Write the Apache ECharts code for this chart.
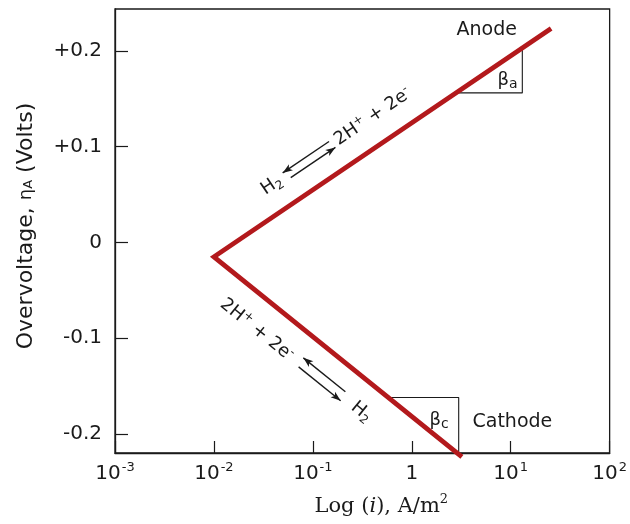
<!DOCTYPE html>
<html><head><meta charset="utf-8">
<script src="https://cdn.jsdelivr.net/npm/echarts@6/dist/echarts.min.js"></script>
<style>html,body{margin:0;padding:0;background:#fff;overflow:hidden}#c{width:630px;height:524px}</style>
</head><body><div id="c"></div>
<script>
// ---- data ----
const xMin = 0.001, xMax = 100;
const yMin = -0.2198, yMax = 0.2438;
const yTickValues = [-0.2, -0.1, 0, 0.1, 0.2];
const yTickLabels = ['-0.2', '-0.1', '0', '+0.1', '+0.2'];
const tafelLine = [[25.6, 0.2234], [0.01, -0.015], [3.21, -0.2238]]; // anode end, vertex, cathode end
const betaATriangle = [[2.81, 0.1562], [13.1, 0.1562], [13.1, 0.203]];
const betaCTriangle = [[0.578, -0.1618], [2.98, -0.1618], [2.98, -0.221]];
const textLabels = [
  [5.72, 0.2216, '{t|Anode}'],
  [10.4, -0.1876, '{t|Cathode}'],
  [9.29, 0.1695, '{g|β}{s|a}'],
  [1.89, -0.1855, '{g|β}{s|c}']
];

const FONT = 'DejaVu Sans';
const INK = '#1a1a1a';
const RED = '#b3191c';

const chart = echarts.init(document.getElementById('c'), null, {renderer: 'canvas', width: 630, height: 524});
chart.setOption({
  animation: false,
  backgroundColor: '#fff',
  grid: {left: 115, right: 16, top: 9, bottom: 71, show: true, borderColor: INK, borderWidth: 1.3, containLabel: false},
  xAxis: {
    type: 'log', logBase: 10, min: xMin, max: xMax,
    axisLine: {onZero: false, lineStyle: {color: INK, width: 1.3}},
    axisTick: {inside: true, length: 12, lineStyle: {color: INK, width: 1.2}},
    minorTick: {show: false},
    splitLine: {show: false},
    axisLabel: {
      margin: 8, color: INK, fontFamily: FONT, fontSize: 20,
      formatter: function (v) {
        const e = Math.round(Math.log10(v));
        if (e === 0) return '{b|1}';
        return '{b|10}{s|' + e + '}';
      },
      rich: {
        b: {fontFamily: FONT, fontSize: 20, color: INK, lineHeight: 23, verticalAlign: 'bottom'},
        s: {fontFamily: FONT, fontSize: 13, color: INK, lineHeight: 23, verticalAlign: 'top', padding: [0, 0, 0, 1]}
      }
    },
    name: '{n|Log (}{i|i}{n|), A/m}{p|2}',
    nameLocation: 'middle', nameGap: 40,
    nameTextStyle: {
      padding: [0, 0, 0, 38],
      rich: {
        n: {fontFamily: 'DejaVu Serif', fontSize: 21, color: INK, lineHeight: 24, verticalAlign: 'bottom'},
        i: {fontFamily: 'DejaVu Serif', fontStyle: 'italic', fontSize: 21, color: INK, lineHeight: 24, verticalAlign: 'bottom'},
        p: {fontFamily: 'DejaVu Serif', fontSize: 13, color: INK, lineHeight: 24, verticalAlign: 'top'}
      }
    }
  },
  yAxis: {
    type: 'value', min: yMin, max: yMax,
    axisLine: {show: true, onZero: false, lineStyle: {color: INK, width: 1.3}},
    axisTick: {show: true, inside: true, length: 13, customValues: yTickValues, lineStyle: {color: INK, width: 1.2}},
    splitLine: {show: false},
    axisLabel: {
      margin: 13, color: INK, fontFamily: FONT, fontSize: 20,
      customValues: yTickValues,
      formatter: function (v) {
        const i = yTickValues.findIndex(t => Math.abs(t - v) < 1e-6);
        return i >= 0 ? yTickLabels[i] : '';
      }
    },
    name: '{n|Overvoltage, }{e|η}{s|A}{n| (Volts)}',
    nameLocation: 'middle', nameRotate: 90, nameGap: 75,
    nameTextStyle: {
      padding: [0, 0, 0, 10],
      rich: {
        n: {fontFamily: FONT, fontSize: 22, color: INK, lineHeight: 27, verticalAlign: 'middle'},
        e: {fontFamily: FONT, fontSize: 18, color: INK, lineHeight: 27, verticalAlign: 'middle'},
        s: {fontFamily: FONT, fontSize: 13, color: INK, lineHeight: 27, verticalAlign: 'middle', padding: [4, 0, 0, 0]}
      }
    }
  },
  series: [
    {
      type: 'line', data: betaATriangle, symbol: 'none', silent: true, clip: false, z: 2,
      lineStyle: {color: INK, width: 1.1}
    },
    {
      type: 'line', data: betaCTriangle, symbol: 'none', silent: true, clip: false, z: 2,
      lineStyle: {color: INK, width: 1.1}
    },
    {
      type: 'line', data: tafelLine, symbol: 'none', silent: true, clip: false, z: 3,
      lineStyle: {color: RED, width: 4.8, join: 'miter', cap: 'butt'}
    }
  ]
});

// ---- text annotations and reaction arrows, anchored via the chart's own coordinate conversion ----
function px(p) { return chart.convertToPixel({xAxisIndex: 0, yAxisIndex: 0}, p); }
const RICH = {
  t: {fontFamily: FONT, fontSize: 19, fill: INK, lineHeight: 22, verticalAlign: 'middle'},
  g: {fontFamily: FONT, fontSize: 18, fill: INK, lineHeight: 22, verticalAlign: 'middle'},
  s: {fontFamily: FONT, fontSize: 14, fill: INK, lineHeight: 22, verticalAlign: 'bottom'},
  n: {fontFamily: FONT, fontSize: 18, fill: INK, lineHeight: 22, verticalAlign: 'middle'},
  u: {fontFamily: FONT, fontSize: 12, fill: INK, lineHeight: 22, verticalAlign: 'top'},
  d: {fontFamily: FONT, fontSize: 12, fill: INK, lineHeight: 22, verticalAlign: 'bottom'}
};
function arrow(x1, y, x2, headAtStart) {
  const hx = headAtStart ? x1 : x2, dir = headAtStart ? 1 : -1;
  const L = 10, W = 3.6;
  return [
    {type: 'line', shape: {x1: x1, y1: y, x2: x2, y2: y}, style: {stroke: INK, lineWidth: 1.4}},
    {type: 'polygon', shape: {points: [[hx, y], [hx + dir * L, y - W], [hx + dir * L * 0.75, y], [hx + dir * L, y + W]]}, style: {fill: INK}}
  ];
}
function textEl(x, y, str) {
  return {type: 'text', x: x, y: y, style: {text: str, align: 'center', verticalAlign: 'middle', rich: RICH}};
}
const labelEls = textLabels.map(l => {
  const p = px([l[0], l[1]]);
  return Object.assign(textEl(p[0], p[1], l[2]), {silent: true, z: 10});
});
const v = px(tafelLine[1]), a = px(tafelLine[0]), c = px(tafelLine[2]);
const angA = Math.atan2(v[1] - a[1], a[0] - v[0]);
const angC = Math.atan2(v[1] - c[1], c[0] - v[0]);
const upper = {
  type: 'group', x: v[0], y: v[1], rotation: angA, silent: true, z: 10,
  children: [
    textEl(88, -27, '{n|H}{d|2}'),
    ...arrow(104, -31, 160, true),
    ...arrow(108, -22.5, 162, false),
    textEl(210, -27, '{n|2H}{u|+}{n| + 2e}{u|-}')
  ]
};
const lower = {
  type: 'group', x: v[0], y: v[1], rotation: angC, silent: true, z: 10,
  children: [
    textEl(79, 30, '{n|2H}{u|+}{n| + 2e}{u|-}'),
    ...arrow(133, 22.5, 187, true),
    ...arrow(135, 32.5, 189, false),
    textEl(212, 28, '{n|H}{d|2}')
  ]
};
chart.setOption({graphic: labelEls.concat([upper, lower])});
</script>
</body></html>
